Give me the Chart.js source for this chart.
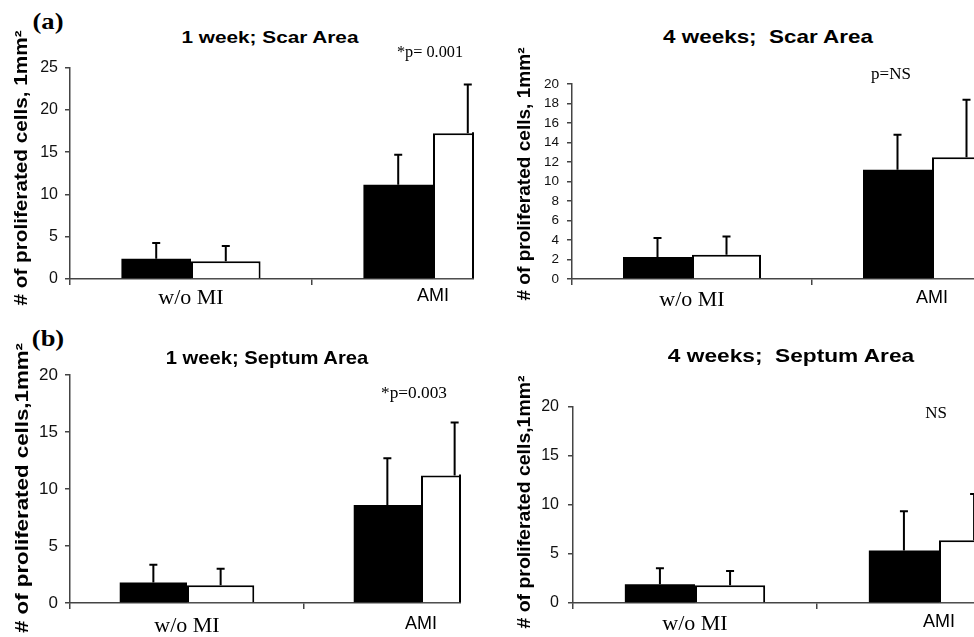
<!DOCTYPE html>
<html>
<head>
<meta charset="utf-8">
<script src="https://cdn.jsdelivr.net/npm/chart.js@4.4.1/dist/chart.umd.min.js"></script>
<style>
  html, body { margin: 0; padding: 0; background: #fff; overflow: hidden; }
  body { width: 974px; height: 637px; position: relative; }
  .clip { position: absolute; overflow: hidden; }
  .clip canvas { position: absolute; }
  .txt { position: absolute; white-space: pre; line-height: 1; color: #000; }
  .title { font: bold 17px "Liberation Sans", Arial, sans-serif; }
  .big { font-size: 19px; }
  .ylab { font: bold 18px "Liberation Sans", Arial, sans-serif; }
  .note { font: 17px "Liberation Serif", "Times New Roman", serif; }
  .panel { font: bold 24px "Liberation Serif", "Times New Roman", serif; }
</style>
</head>
<body>
<script>
// categories
const groups = ["w/o MI", "AMI"];

// 1 week, scar area
const scar1wFilled = [2.4, 11.15];
const scar1wFilledSd = [1.85, 3.55];
const scar1wOpen = [2.1, 17.25];
const scar1wOpenSd = [1.8, 5.75];

// 4 weeks, scar area
const scar4wFilled = [2.25, 11.2];
const scar4wFilledSd = [1.95, 3.6];
const scar4wOpen = [2.5, 12.5];
const scar4wOpenSd = [1.85, 5.9];

// 1 week, septum area
const sept1wFilled = [1.8, 8.6];
const sept1wFilledSd = [1.55, 4.1];
const sept1wOpen = [1.55, 11.2];
const sept1wOpenSd = [1.45, 4.65];

// 4 weeks, septum area
const sept4wFilled = [1.9, 5.35];
const sept4wFilledSd = [1.65, 4.0];
const sept4wOpen = [1.8, 6.4];
const sept4wOpenSd = [1.45, 4.7];

// y tick labels
const ticksScar1w = [0, 5, 10, 15, 20, 25];
const ticksScar4w = [0, 2, 4, 6, 8, 10, 12, 14, 16, 18, 20];
const ticksSeptum = [0, 5, 10, 15, 20];

const axisColor = "#444";

// upward-only error bars with a short cap
const errorBars = {
    id: "errorBars",
    afterDatasetsDraw(chart) {
        const ctx = chart.ctx, y = chart.scales.y;
        ctx.save();
        ctx.strokeStyle = "#000";
        ctx.lineWidth = 2;
        chart.data.datasets.forEach((ds, i) => {
            chart.getDatasetMeta(i).data.forEach((bar, j) => {
                const top = y.getPixelForValue(ds.data[j] + ds.errors[j]);
                ctx.beginPath();
                ctx.moveTo(bar.x, bar.y);
                ctx.lineTo(bar.x, top);
                ctx.moveTo(bar.x - 4, top);
                ctx.lineTo(bar.x + 4, top);
                ctx.stroke();
            });
        });
        // the cropped figure shows a border where the last open bar is cut
        const edge = chart.options.plugins.errorBars.cutAt;
        if (edge) {
            const meta = chart.getDatasetMeta(1);
            const bar = meta.data[meta.data.length - 1];
            ctx.beginPath();
            ctx.moveTo(edge, bar.y - 1);
            ctx.lineTo(edge, bar.base);
            ctx.stroke();
        }
        ctx.restore();
    }
};

const panels = [
    { filled: scar1wFilled, filledSd: scar1wFilledSd, open: scar1wOpen, openSd: scar1wOpenSd, ticks: ticksScar1w,
      ax: 70, top: 63, y0: 279, cw: 242, clip: [0, 0, 474, 320], cut: true, tickSize: 16, tickPad: 7, xPad: 0 },
    { filled: scar4wFilled, filledSd: scar4wFilledSd, open: scar4wOpen, openSd: scar4wOpenSd, ticks: ticksScar4w,
      ax: 572, top: 80, y0: 279, cw: 240, clip: [490, 0, 484, 320], cut: false, tickSize: 13.5, tickPad: 8, xPad: 2 },
    { filled: sept1wFilled, filledSd: sept1wFilledSd, open: sept1wOpen, openSd: sept1wOpenSd, ticks: ticksSeptum,
      ax: 70, top: 370, y0: 603, cw: 234, clip: [0, 320, 461, 317], cut: true, tickSize: 17, tickPad: 7, xPad: 4 },
    { filled: sept4wFilled, filledSd: sept4wFilledSd, open: sept4wOpen, openSd: sept4wOpenSd, ticks: ticksSeptum,
      ax: 573, top: 400, y0: 603, cw: 244, clip: [490, 320, 484, 317], cut: false, tickSize: 16, tickPad: 9, xPad: 2 }
];

const Y_W = 50, PAD_T = 12, PAD_R = 10, X_H = 40;

function drawPanel(p) {
    const wrap = document.createElement("div");
    wrap.className = "clip";
    wrap.style.left = p.clip[0] + "px";
    wrap.style.top = p.clip[1] + "px";
    wrap.style.width = p.clip[2] + "px";
    wrap.style.height = p.clip[3] + "px";
    const canvas = document.createElement("canvas");
    const left = p.ax - Y_W - p.clip[0];
    canvas.width = Y_W + 2 * p.cw + PAD_R;
    canvas.height = PAD_T + (p.y0 - p.top) + X_H;
    canvas.style.left = left + "px";
    canvas.style.top = (p.top - PAD_T - p.clip[1]) + "px";
    wrap.appendChild(canvas);
    document.body.appendChild(wrap);

    new Chart(canvas, {
        type: "bar",
        data: {
            labels: groups,
            datasets: [
                { label: "filled", data: p.filled, errors: p.filledSd, backgroundColor: "#000", borderColor: "#000", borderWidth: 0 },
                { label: "open", data: p.open, errors: p.openSd, backgroundColor: "#fff", borderColor: "#000", borderWidth: 2 }
            ]
        },
        options: {
            responsive: false,
            animation: false,
            layout: { padding: { top: PAD_T, right: PAD_R, left: 0, bottom: 0 } },
            datasets: { bar: { barPercentage: 1, categoryPercentage: 0.575 } },
            plugins: {
                legend: { display: false },
                tooltip: { enabled: false },
                errorBars: { cutAt: p.cut ? p.clip[2] - left - 1 : null }
            },
            scales: {
                x: {
                    z: 1,
                    grid: { offset: true, drawOnChartArea: false, tickLength: 6, color: axisColor, lineWidth: 1.5 },
                    border: { color: axisColor, width: 1.5 },
                    ticks: {
                        color: "#000",
                        padding: p.xPad,
                        font: c => c.index === 0
                            ? { family: "Liberation Serif", size: 22 }
                            : { family: "Liberation Sans", size: 18 }
                    },
                    afterFit: s => { s.height = X_H; }
                },
                y: {
                    min: p.ticks[0],
                    max: p.ticks[p.ticks.length - 1],
                    grid: { drawOnChartArea: false, tickLength: 5, color: axisColor, lineWidth: 1.5 },
                    border: { color: axisColor, width: 1.5 },
                    ticks: { color: "#111", padding: p.tickPad, font: { family: "Liberation Sans", size: p.tickSize } },
                    afterBuildTicks: s => { s.ticks = p.ticks.map(v => ({ value: v })); },
                    afterFit: s => { s.width = Y_W; }
                }
            }
        },
        plugins: [errorBars]
    });
}

// text centred at (cx, cy), stretched to the width w
function place(html, cx, cy, w, cls, rotate) {
    const el = document.createElement("div");
    el.className = "txt " + cls;
    el.innerHTML = html;
    document.body.appendChild(el);
    const k = w / el.offsetWidth;
    el.style.left = cx + "px";
    el.style.top = cy + "px";
    el.style.transform = "translate(-50%,-50%)" + (rotate ? " rotate(-90deg)" : "") + " scaleX(" + k + ")";
}

document.addEventListener("DOMContentLoaded", function () {
    panels.forEach(drawPanel);

    place("(a)", 48, 21, 31, "panel");
    place("(b)", 48, 338, 32, "panel");

    place("1 week; Scar Area", 270, 37.5, 177, "title");
    place("4 weeks;  Scar Area", 768, 37, 210, "title big");
    place("1 week; Septum Area", 267, 358, 202, "title big");
    place("4 weeks;  Septum Area", 791, 356, 246, "title big");

    place("# of proliferated cells, 1mm²", 21, 167.5, 275, "ylab", true);
    place("# of proliferated cells, 1mm²", 524, 173.5, 253, "ylab", true);
    place("# of proliferated cells,1mm²", 21.5, 488, 290, "ylab", true);
    place("# of proliferated cells,1mm²", 524, 501.5, 253, "ylab", true);

    place("*p= 0.001", 430, 52, 66, "note");
    place("p=NS", 891, 74, 40, "note");
    place("*p=0.003", 414, 393, 66, "note");
    place("NS", 936, 413, 22, "note");
});
</script>
</body>
</html>
